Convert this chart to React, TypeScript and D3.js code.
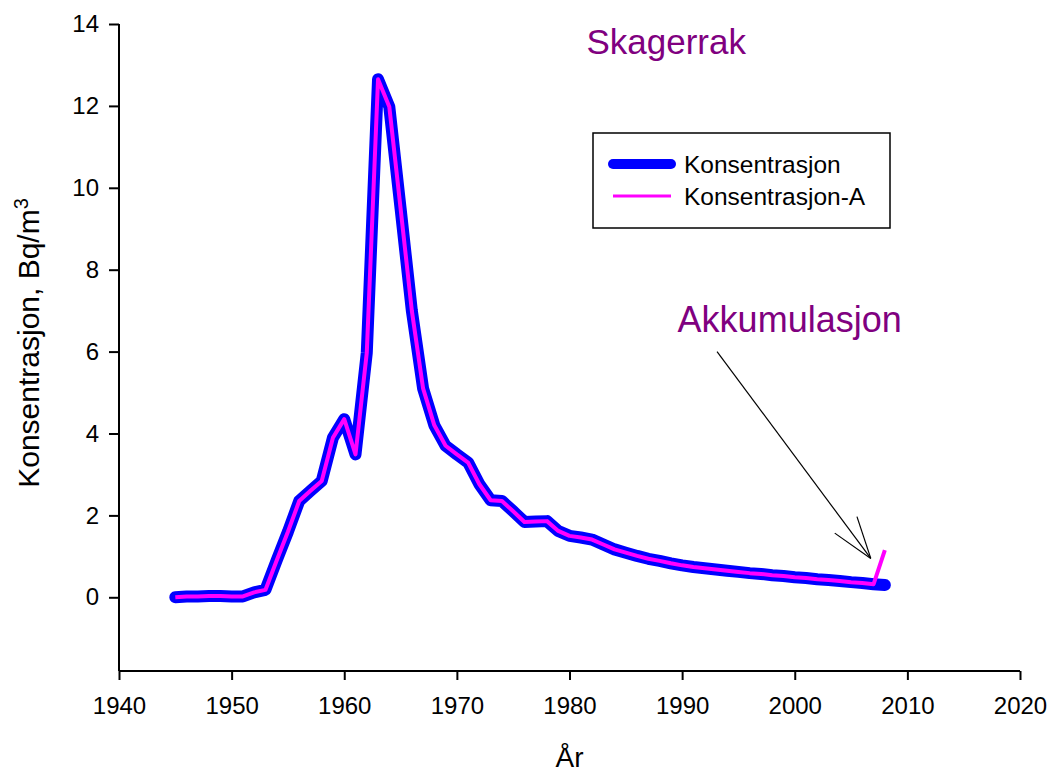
import { useEffect, useRef } from "react";
import * as d3 from "d3";

const years = d3.range(1945, 2009);

const konsentrasjon = [
  0.0, 0.02, 0.02, 0.03, 0.03, 0.02, 0.02, 0.12, 0.18, 0.9,
  1.6, 2.35, 2.6, 2.84, 3.9, 4.35, 3.49, 5.97, 12.65, 11.98,
  9.5, 7.0, 5.1, 4.2, 3.7, 3.49, 3.29, 2.76, 2.37, 2.35,
  2.1, 1.84, 1.85, 1.86, 1.62, 1.5, 1.46, 1.41, 1.29, 1.17,
  1.09, 1.01, 0.94, 0.89, 0.83, 0.78, 0.74, 0.71, 0.68, 0.65,
  0.62, 0.59, 0.57, 0.54, 0.52, 0.49, 0.47, 0.44, 0.42, 0.4,
  0.37, 0.35, 0.32, 0.3
];

// same as konsentrasjon, except the last year (accumulation)
const konsentrasjonA = [...konsentrasjon.slice(0, -1), 1.15];

const xTicks = [1940, 1950, 1960, 1970, 1980, 1990, 2000, 2010, 2020];
const yTicks = [0, 2, 4, 6, 8, 10, 12, 14];

const seriesNames = ["Konsentrasjon", "Konsentrasjon-A"];

const FONT = "'Liberation Sans', Arial, sans-serif";
const PURPLE = "#800080";

export default function App() {
  const svgRef = useRef<SVGSVGElement | null>(null);

  useEffect(() => {
    const W = 1051, H = 773;
    const svg = d3.select(svgRef.current).attr("width", W).attr("height", H);
    svg.selectAll("*").remove();

    const x = d3.scaleLinear().domain([1940, 2020]).range([119, 1020]);
    const y = d3.scaleLinear().domain([-1.8, 14]).range([671, 24]);

    const tickFont = 24;

    // y axis
    const yAxis = svg.append("g")
      .attr("transform", `translate(${x(1940)},0)`)
      .call(d3.axisLeft(y).tickValues(yTicks).tickSize(10).tickPadding(10).tickSizeOuter(0));
    yAxis.select(".domain").attr("stroke-width", 2).attr("d", `M0,${y(14)}V${y(-1.8)}`);
    yAxis.selectAll(".tick line").attr("stroke-width", 2);
    yAxis.selectAll("text").style("font-family", FONT).style("font-size", `${tickFont}px`).attr("fill", "#000");

    // x axis
    const xAxis = svg.append("g")
      .attr("transform", `translate(0,${y(-1.8)})`)
      .call(d3.axisBottom(x).tickValues(xTicks).tickFormat(d3.format("d")).tickSize(9).tickPadding(17).tickSizeOuter(0));
    xAxis.select(".domain").attr("stroke-width", 2).attr("d", `M${x(1940)},0H${x(2020)}`);
    xAxis.selectAll(".tick line").attr("stroke-width", 2);
    xAxis.selectAll("text").style("font-family", FONT).style("font-size", `${tickFont}px`).attr("fill", "#000");

    // axis titles
    svg.append("text")
      .attr("x", (x(1940) + x(2020)) / 2)
      .attr("y", 767)
      .attr("text-anchor", "middle")
      .style("font-family", FONT).style("font-size", "28px")
      .text("År");

    const yt = svg.append("text")
      .attr("transform", `translate(39,343) rotate(-90)`)
      .attr("text-anchor", "middle")
      .style("font-family", FONT).style("font-size", "30px");
    yt.append("tspan").text("Konsentrasjon, Bq/m");
    yt.append("tspan").attr("dy", -11).style("font-size", "20px").text("3");

    const line = d3.line<number>()
      .x((_, i) => x(years[i]))
      .y(d => y(d));

    svg.append("path")
      .attr("d", line(konsentrasjon))
      .attr("fill", "none")
      .attr("stroke", "#0000ff")
      .attr("stroke-width", 12)
      .attr("stroke-linejoin", "round")
      .attr("stroke-linecap", "round");

    svg.append("path")
      .attr("d", line(konsentrasjonA))
      .attr("fill", "none")
      .attr("stroke", "#ff00ff")
      .attr("stroke-width", 4)
      .attr("stroke-linejoin", "round");

    // Legend
    const legend = svg.append("g").attr("transform", "translate(593,133)");
    legend.append("rect").attr("width", 297).attr("height", 95)
      .attr("fill", "#fff").attr("stroke", "#000").attr("stroke-width", 1.5);
    const lg = legend.selectAll("g.item").data(seriesNames).join("g")
      .attr("class", "item")
      .attr("transform", (_, i) => `translate(0,${31 + i * 32})`);
    lg.append("line")
      .attr("x1", 20)
      .attr("x2", 78)
      .attr("stroke", (_, i) => i === 0 ? "#0000ff" : "#ff00ff")
      .attr("stroke-width", (_, i) => i === 0 ? 10 : 3)
      .attr("stroke-linecap", (_, i) => i === 0 ? "round" : "butt");
    lg.append("text")
      .attr("x", 91).attr("y", 9)
      .style("font-family", FONT).style("font-size", "24.5px")
      .text(d => d);

    // Annotations
    svg.append("text")
      .attr("x", x(1981.5)).attr("y", y(13.26))
      .attr("fill", PURPLE)
      .style("font-family", FONT).style("font-size", "35px")
      .text("Skagerrak");

    svg.append("text")
      .attr("x", x(1989.6)).attr("y", y(6.49))
      .attr("fill", PURPLE)
      .style("font-family", FONT).style("font-size", "36px")
      .text("Akkumulasjon");

    const x0 = x(1993.1), y0 = y(6.0);
    const x1 = x(2006.75), y1 = y(0.95);
    svg.append("line")
      .attr("x1", x0).attr("y1", y0).attr("x2", x1).attr("y2", y1)
      .attr("stroke", "#000").attr("stroke-width", 1.2);
    const ang = Math.atan2(y1 - y0, x1 - x0);
    const len = 44, spread = 0.32;
    [ang - spread, ang + spread].forEach(a => {
      svg.append("line")
        .attr("x1", x1).attr("y1", y1)
        .attr("x2", x1 - len * Math.cos(a)).attr("y2", y1 - len * Math.sin(a))
        .attr("stroke", "#000").attr("stroke-width", 1.2);
    });
  }, []);

  return (
    <div style={{ position: "absolute", left: 0, top: 0 }}>
      <svg ref={svgRef}></svg>
    </div>
  );
}
